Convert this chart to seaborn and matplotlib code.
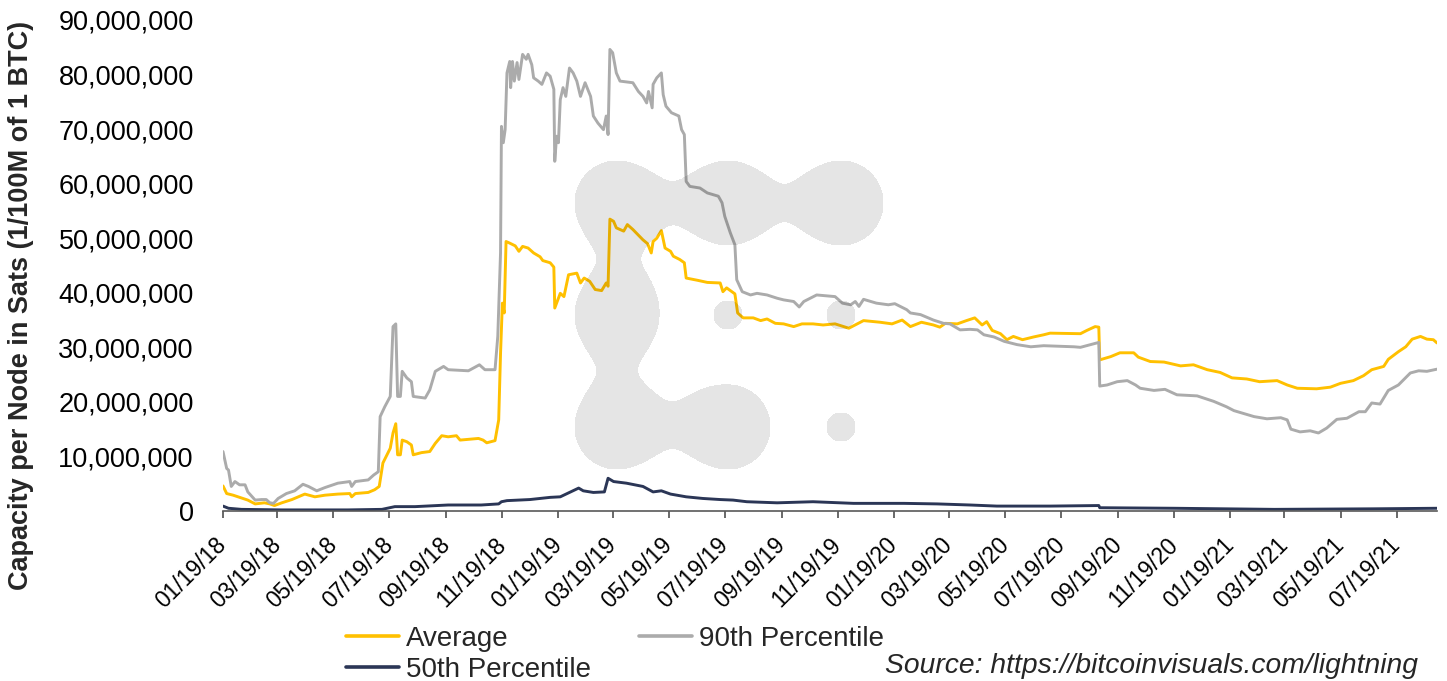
import numpy as np
import pandas as pd
import matplotlib
matplotlib.use("Agg")
import matplotlib.pyplot as plt
from matplotlib.ticker import FuncFormatter
from matplotlib.lines import Line2D
import seaborn as sns

sns.set_theme(style="white")
plt.rcParams["font.family"] = ["Liberation Sans", "DejaVu Sans"]

# ---------------------------------------------------------------- data
# capacity per node, millions of sats
avg_dates = [
    "2018-01-19", "2018-01-23", "2018-01-30", "2018-02-06", "2018-02-15", "2018-02-23",
    "2018-03-05", "2018-03-11", "2018-03-16", "2018-03-24", "2018-04-04", "2018-04-18",
    "2018-04-29", "2018-05-10", "2018-05-24", "2018-06-06", "2018-06-08", "2018-06-12",
    "2018-06-26", "2018-07-03", "2018-07-08", "2018-07-12", "2018-07-20", "2018-07-23",
    "2018-07-26", "2018-07-28", "2018-07-31", "2018-08-02", "2018-08-07", "2018-08-12",
    "2018-08-14", "2018-08-23", "2018-09-01", "2018-09-07", "2018-09-14", "2018-09-21",
    "2018-09-30", "2018-10-04", "2018-10-24", "2018-10-29", "2018-11-02", "2018-11-11",
    "2018-11-15", "2018-11-17", "2018-11-19", "2018-11-21", "2018-11-23", "2018-11-27",
    "2018-12-03", "2018-12-07", "2018-12-11", "2018-12-17", "2018-12-23", "2018-12-30",
    "2019-01-02", "2019-01-10", "2019-01-14", "2019-01-15", "2019-01-19", "2019-01-21",
    "2019-01-25", "2019-01-30", "2019-02-08", "2019-02-12", "2019-02-16", "2019-02-22",
    "2019-02-28", "2019-03-07", "2019-03-12", "2019-03-14", "2019-03-16", "2019-03-20",
    "2019-03-23", "2019-03-31", "2019-04-04", "2019-04-10", "2019-04-21", "2019-04-26",
    "2019-04-30", "2019-05-02", "2019-05-06", "2019-05-11", "2019-05-15", "2019-05-21",
    "2019-05-24", "2019-05-31", "2019-06-05", "2019-06-07", "2019-06-19", "2019-06-30",
    "2019-07-14", "2019-07-17", "2019-07-21", "2019-07-30", "2019-08-02", "2019-08-08",
    "2019-08-19", "2019-08-27", "2019-09-03", "2019-09-12", "2019-09-21", "2019-10-02",
    "2019-10-11", "2019-10-23", "2019-11-03", "2019-11-16", "2019-12-01", "2019-12-10",
    "2019-12-17", "2020-01-04", "2020-01-17", "2020-01-28", "2020-02-06", "2020-02-18",
    "2020-03-02", "2020-03-09", "2020-03-15", "2020-03-28", "2020-04-07", "2020-04-16",
    "2020-04-24", "2020-04-29", "2020-05-05", "2020-05-14", "2020-05-21", "2020-05-28",
    "2020-06-07", "2020-06-19", "2020-06-30", "2020-07-07", "2020-08-09", "2020-08-16",
    "2020-08-25", "2020-08-29", "2020-08-30", "2020-09-11", "2020-09-21", "2020-10-06",
    "2020-10-11", "2020-10-24", "2020-11-08", "2020-11-26", "2020-12-10", "2020-12-25",
    "2021-01-08", "2021-01-21", "2021-02-06", "2021-02-20", "2021-03-11", "2021-03-22",
    "2021-04-02", "2021-04-23", "2021-05-08", "2021-05-19", "2021-06-02", "2021-06-13",
    "2021-06-22", "2021-07-05", "2021-07-10", "2021-07-21", "2021-07-29", "2021-08-05",
    "2021-08-14", "2021-08-21", "2021-08-28", "2021-09-01",
]
avg_values = [
    4.6, 3.2, 2.9, 2.5, 2.0, 1.3,
    1.5, 1.3, 1.0, 1.5, 2.1, 3.1,
    2.6, 2.9, 3.1, 3.2, 2.6, 3.2,
    3.4, 3.9, 4.5, 8.8, 11.5, 14.3,
    16.0, 10.3, 10.3, 13.0, 12.7, 12.1,
    10.3, 10.7, 10.9, 12.4, 13.8, 13.6,
    13.8, 13.0, 13.3, 13.0, 12.5, 12.9,
    16.7, 28.9, 38.1, 36.3, 49.4, 49.1,
    48.6, 47.6, 48.5, 48.2, 47.3, 46.6,
    45.9, 45.5, 44.7, 37.2, 39.0, 39.9,
    39.3, 43.3, 43.6, 41.8, 42.7, 42.1,
    40.6, 40.4, 41.8, 41.2, 53.5, 53.1,
    51.9, 51.3, 52.5, 51.6, 49.7, 49.0,
    47.3, 49.4, 50.0, 51.4, 48.2, 47.6,
    46.7, 46.1, 45.5, 42.7, 42.3, 41.9,
    41.8, 40.2, 40.9, 39.8, 36.3, 35.4,
    35.4, 34.9, 35.2, 34.4, 34.3, 33.8,
    34.3, 34.3, 34.1, 34.3, 33.5, 34.3,
    34.9, 34.6, 34.3, 35.0, 33.8, 34.6,
    34.1, 33.7, 34.4, 34.3, 34.9, 35.4,
    34.1, 34.7, 33.1, 32.5, 31.4, 32.0,
    31.4, 31.9, 32.3, 32.6, 32.5, 33.1,
    33.8, 33.7, 27.7, 28.3, 29.0, 29.0,
    28.2, 27.4, 27.3, 26.6, 26.8, 25.9,
    25.4, 24.4, 24.2, 23.7, 23.9, 23.1,
    22.5, 22.4, 22.7, 23.4, 23.9, 24.8,
    25.9, 26.5, 27.8, 29.2, 30.1, 31.5,
    32.0, 31.5, 31.4, 30.8,
]

p90_dates = [
    "2018-01-19", "2018-01-23", "2018-01-25", "2018-01-28", "2018-02-01", "2018-02-06",
    "2018-02-12", "2018-02-15", "2018-02-23", "2018-03-02", "2018-03-07", "2018-03-11",
    "2018-03-15", "2018-03-20", "2018-03-29", "2018-04-07", "2018-04-16", "2018-04-22",
    "2018-05-01", "2018-05-10", "2018-05-24", "2018-06-06", "2018-06-08", "2018-06-12",
    "2018-06-26", "2018-07-02", "2018-07-07", "2018-07-09", "2018-07-14", "2018-07-20",
    "2018-07-23", "2018-07-26", "2018-07-28", "2018-07-31", "2018-08-02", "2018-08-07",
    "2018-08-12", "2018-08-14", "2018-08-27", "2018-09-01", "2018-09-07", "2018-09-16",
    "2018-09-21", "2018-10-13", "2018-10-25", "2018-10-31", "2018-11-11", "2018-11-14",
    "2018-11-17", "2018-11-18", "2018-11-20", "2018-11-22", "2018-11-24", "2018-11-27",
    "2018-11-28", "2018-11-30", "2018-12-02", "2018-12-05", "2018-12-07", "2018-12-11",
    "2018-12-15", "2018-12-17", "2018-12-21", "2018-12-23", "2018-12-28", "2019-01-01",
    "2019-01-06", "2019-01-10", "2019-01-14", "2019-01-15", "2019-01-17", "2019-01-19",
    "2019-01-21", "2019-01-24", "2019-01-27", "2019-01-31", "2019-02-04", "2019-02-08",
    "2019-02-12", "2019-02-17", "2019-02-23", "2019-02-26", "2019-03-03", "2019-03-09",
    "2019-03-12", "2019-03-14", "2019-03-16", "2019-03-19", "2019-03-23", "2019-03-27",
    "2019-04-10", "2019-04-16", "2019-04-21", "2019-04-25", "2019-04-27", "2019-05-01",
    "2019-05-02", "2019-05-06", "2019-05-11", "2019-05-13", "2019-05-16", "2019-05-22",
    "2019-05-30", "2019-06-02", "2019-06-05", "2019-06-07", "2019-06-11", "2019-06-22",
    "2019-06-30", "2019-07-12", "2019-07-16", "2019-07-19", "2019-07-25", "2019-07-30",
    "2019-08-01", "2019-08-07", "2019-08-16", "2019-08-23", "2019-09-03", "2019-09-14",
    "2019-09-21", "2019-10-02", "2019-10-08", "2019-10-13", "2019-10-27", "2019-11-16",
    "2019-11-24", "2019-12-03", "2019-12-08", "2019-12-12", "2019-12-17", "2019-12-31",
    "2020-01-13", "2020-01-20", "2020-01-26", "2020-02-02", "2020-02-06", "2020-02-17",
    "2020-03-02", "2020-03-13", "2020-03-20", "2020-03-31", "2020-04-11", "2020-04-19",
    "2020-04-26", "2020-05-07", "2020-05-18", "2020-06-01", "2020-06-16", "2020-06-30",
    "2020-08-02", "2020-08-09", "2020-08-20", "2020-08-29", "2020-08-30", "2020-09-07",
    "2020-09-18", "2020-09-29", "2020-10-08", "2020-10-13", "2020-10-28", "2020-11-09",
    "2020-11-22", "2020-12-14", "2021-01-01", "2021-01-15", "2021-01-23", "2021-02-14",
    "2021-02-28", "2021-03-15", "2021-03-22", "2021-03-26", "2021-04-05", "2021-04-16",
    "2021-04-25", "2021-05-04", "2021-05-15", "2021-05-26", "2021-06-08", "2021-06-15",
    "2021-06-22", "2021-07-01", "2021-07-10", "2021-07-21", "2021-08-03", "2021-08-12",
    "2021-08-21", "2021-09-01",
]
p90_values = [
    10.9, 7.8, 7.5, 4.5, 5.4, 4.8,
    4.8, 3.5, 2.0, 2.1, 2.1, 1.5,
    1.4, 2.3, 3.2, 3.7, 4.9, 4.5,
    3.7, 4.3, 5.1, 5.4, 4.5, 5.4,
    5.7, 6.6, 7.2, 17.3, 19.1, 21.0,
    33.8, 34.3, 21.0, 21.0, 25.6, 24.4,
    23.7, 21.0, 20.7, 22.2, 25.6, 26.5,
    25.9, 25.7, 26.8, 25.9, 25.9, 32.0,
    47.3, 70.5, 67.5, 69.9, 80.3, 82.4,
    77.6, 82.4, 78.8, 82.2, 79.1, 83.7,
    82.8, 83.7, 81.8, 79.4, 78.8, 78.2,
    80.3, 79.7, 77.3, 64.1, 68.7, 67.5,
    75.4, 77.6, 76.0, 81.2, 80.3, 78.8,
    76.0, 78.5, 76.0, 72.4, 71.1, 69.9,
    72.4, 69.0, 84.6, 84.0, 80.3, 78.8,
    78.5, 76.9, 76.0, 74.8, 76.9, 73.9,
    78.2, 79.4, 80.3, 76.3, 74.2, 73.0,
    72.4, 69.9, 69.0, 60.4, 59.5, 59.2,
    58.3, 57.7, 56.5, 54.0, 51.0, 48.8,
    42.4, 40.2, 39.6, 39.9, 39.6, 39.0,
    38.7, 38.4, 37.4, 38.4, 39.6, 39.3,
    38.1, 37.8, 38.4, 37.5, 38.8, 38.1,
    37.8, 38.0, 37.5, 36.9, 36.3, 36.0,
    35.0, 34.4, 34.3, 33.2, 33.3, 33.2,
    32.3, 31.9, 31.1, 30.5, 30.1, 30.3,
    30.1, 30.0, 30.5, 30.9, 22.9, 23.1,
    23.7, 23.9, 23.1, 22.5, 22.1, 22.3,
    21.3, 21.1, 20.1, 19.1, 18.4, 17.3,
    16.9, 17.1, 16.7, 15.0, 14.5, 14.7,
    14.3, 15.2, 16.8, 17.0, 18.2, 18.2,
    19.8, 19.6, 22.1, 23.1, 25.3, 25.7,
    25.6, 26.0,
]

p50_dates = [
    "2018-01-19", "2018-01-25", "2018-02-08", "2018-03-24", "2018-06-04", "2018-07-11",
    "2018-07-25", "2018-08-16", "2018-09-21", "2018-10-27", "2018-11-15", "2018-11-18",
    "2018-11-24", "2018-12-19", "2019-01-10", "2019-01-21", "2019-01-31", "2019-02-10",
    "2019-02-15", "2019-02-26", "2019-03-10", "2019-03-14", "2019-03-20", "2019-04-03",
    "2019-04-21", "2019-05-02", "2019-05-11", "2019-05-21", "2019-06-07", "2019-06-25",
    "2019-07-14", "2019-07-28", "2019-08-12", "2019-09-14", "2019-10-23", "2019-12-06",
    "2020-01-30", "2020-03-06", "2020-04-11", "2020-05-10", "2020-07-07", "2020-08-29",
    "2020-08-30", "2020-11-19", "2021-03-08", "2021-06-24", "2021-09-01",
]
p50_values = [
    0.9, 0.5, 0.3, 0.2, 0.2, 0.3,
    0.8, 0.8, 1.1, 1.1, 1.3, 1.7,
    1.9, 2.1, 2.5, 2.6, 3.4, 4.2,
    3.7, 3.4, 3.5, 6.0, 5.4, 5.1,
    4.5, 3.5, 3.7, 3.1, 2.6, 2.3,
    2.1, 2.0, 1.7, 1.5, 1.7, 1.4,
    1.4, 1.3, 1.1, 0.9, 0.9, 1.0,
    0.6, 0.5, 0.3, 0.4, 0.5,
]

series_names = ["Average", "90th Percentile", "50th Percentile"]
series_colors = ["#FFC000", "#ABABAB", "#2B3656"]

tick_dates = [
    "2018-01-19", "2018-03-19", "2018-05-19", "2018-07-19", "2018-09-19", "2018-11-19",
    "2019-01-19", "2019-03-19", "2019-05-19", "2019-07-19", "2019-09-19", "2019-11-19",
    "2020-01-19", "2020-03-19", "2020-05-19", "2020-07-19", "2020-09-19", "2020-11-19",
    "2021-01-19", "2021-03-19", "2021-05-19", "2021-07-19",
]
y_ticks_millions = [0, 10, 20, 30, 40, 50, 60, 70, 80, 90]

# ---------------------------------------------------------------- frame
frames = []
for name, dates, vals in zip(series_names,
                             [avg_dates, p90_dates, p50_dates],
                             [avg_values, p90_values, p50_values]):
    frames.append(pd.DataFrame({
        "date": pd.to_datetime(dates),
        "sats": np.asarray(vals) * 1e6,
        "series": name,
    }))
df = pd.concat(frames, ignore_index=True)

W, H = 1447, 681
fig = plt.figure(figsize=(W / 100, H / 100), dpi=100)
fig.patch.set_facecolor("white")
ax = fig.add_axes([223 / W, 1 - 511 / H, (1437 - 223) / W, (511 - 20) / H])

sns.lineplot(data=df, x="date", y="sats", hue="series", hue_order=series_names,
             palette=dict(zip(series_names, series_colors)), estimator=None,
             errorbar=None, sort=False, linewidth=2.1, legend=False, ax=ax)

ax.set_xlim(pd.Timestamp("2018-01-19"), pd.Timestamp("2021-09-01"))
ax.set_ylim(0, 90e6)
ax.set_xlabel("")
ax.set_ylabel("")

ax.set_yticks([v * 1e6 for v in y_ticks_millions])
ax.yaxis.set_major_formatter(FuncFormatter(lambda v, p: f"{v:,.0f}"))
ax.tick_params(axis="y", left=False, length=0, pad=21, labelsize=19.5, labelcolor="black")

ticks = pd.to_datetime(tick_dates)
ax.set_xticks(ticks)
ax.set_xticklabels([t.strftime("%m/%d/%y") for t in ticks], rotation=45,
                   ha="right", va="center", rotation_mode="anchor", fontsize=16.5)
ax.tick_params(axis="x", bottom=True, direction="out", length=5, width=1.1,
               color="#404040", pad=17, labelcolor="black")

for side in ["left", "top", "right"]:
    ax.spines[side].set_visible(False)
ax.spines["bottom"].set_color("#595959")
ax.spines["bottom"].set_linewidth(1.2)
ax.grid(False)

fig.text(21 / W, 1 - 305 / H, "Capacity per Node in Sats (1/100M of 1 BTC)",
         rotation=90, ha="center", va="center", fontsize=19.5, fontweight="bold")

handles = [Line2D([0], [0], color=c, lw=2.6) for c in series_colors]
order = [0, 2, 1]
fig.legend([handles[i] for i in order], [series_names[i] for i in order],
           ncol=2, loc="upper left", bbox_to_anchor=(346 / W, 1 - 626 / H),
           frameon=False, fontsize=20, handlelength=1.9, handletextpad=0.25,
           columnspacing=1.75, labelspacing=0.17, borderpad=0, borderaxespad=0)

fig.text(1418 / W, 1 - 666 / H, "Source: https://bitcoinvisuals.com/lightning",
         ha="right", va="center", fontsize=20.3, style="italic")

# soft logo mark laid over the plot area
wm = fig.add_axes([0, 0, 1, 1], zorder=5)
wm.set_xlim(0, W)
wm.set_ylim(H, 0)
wm.axis("off")
wm.patch.set_alpha(0)
gx, gy = np.meshgrid(np.arange(560, 900, 0.5), np.arange(150, 485, 0.5))


def disc(cx, cy, r):
    return np.hypot(gx - cx, gy - cy) - r


def smooth_union(a, b, k):
    h = np.clip(0.5 + 0.5 * (b - a) / k, 0, 1)
    return b * (1 - h) + a * h - k * h * (1 - h)


big = [(617, 203), (728, 203), (841, 203), (617, 315), (617, 427), (728, 427)]
small = [(728, 315), (841, 315), (841, 427)]
field = disc(*big[0], 42)
for c in big[1:]:
    field = smooth_union(field, disc(*c, 42), 70)
for c in small:
    field = np.minimum(field, disc(*c, 14))
wm.contourf(gx, gy, field, levels=[field.min() - 1, 0], colors=["black"], alpha=0.1)

fig.savefig("out.png", dpi=100, facecolor="white")
